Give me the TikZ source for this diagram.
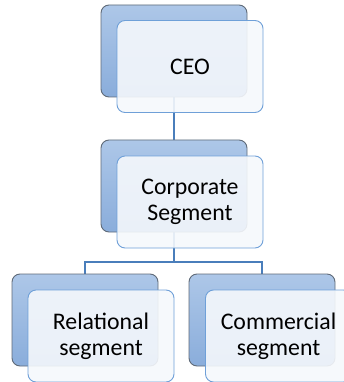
\documentclass[tikz,border=0pt]{standalone}
\usepackage{fontspec}
\setmainfont{Carlito}
\usetikzlibrary{backgrounds}
\begin{document}
\begin{tikzpicture}[x=1pt,y=-1pt,
  backbox/.style={draw=backline, line width=0.9pt, rounded corners=8pt,
    top color=backtop, bottom color=backbot, minimum width=146pt, minimum height=92pt, inner sep=0pt},
  frontbox/.style={draw=frontline, line width=0.9pt, rounded corners=8pt,
    fill=frontfill, fill opacity=0.9, text opacity=1, minimum width=146pt, minimum height=92pt,
    inner sep=0pt, align=center, font=\fontsize{23.8}{26}\selectfont, text=black},
  conn/.style={draw=connblue, line width=2.2pt}]
\definecolor{backline}{HTML}{5F6A78}
\definecolor{backtop}{HTML}{ADC7E8}
\definecolor{backbot}{HTML}{8AADDB}
\definecolor{frontline}{HTML}{6FA0D8}
\definecolor{frontfill}{HTML}{F5F8FC}
\definecolor{connblue}{HTML}{4A7EBB}
\clip (0,0) rectangle (344,382);
\useasboundingbox (0,0) rectangle (344,382);
% back boxes
\node[backbox] (ceoB) at (174,51) {};
\node[backbox] (corpB) at (174,186) {};
\node[backbox] (relB) at (85,320) {};
\node[backbox] (comB) at (262,320) {};
% front boxes
\node[frontbox] (ceoF) at (190,66.5) {CEO};
\node[frontbox] (corpF) at (190,202) {Corporate\\Segment};
\node[frontbox] (relF) at (101,336) {Relational\\segment};
\node[frontbox] (comF) at (278.5,336) {Commercial\\segment};
% connectors behind the boxes
\begin{scope}[on background layer]
\coordinate (split) at (174,262);
\draw[conn] (ceoB.center) -- (corpB.north);
\draw[conn] (corpB.center) -- (split) -| (relB.north);
\draw[conn] (split) -| (comB.north);
\end{scope}
\end{tikzpicture}
\end{document}
